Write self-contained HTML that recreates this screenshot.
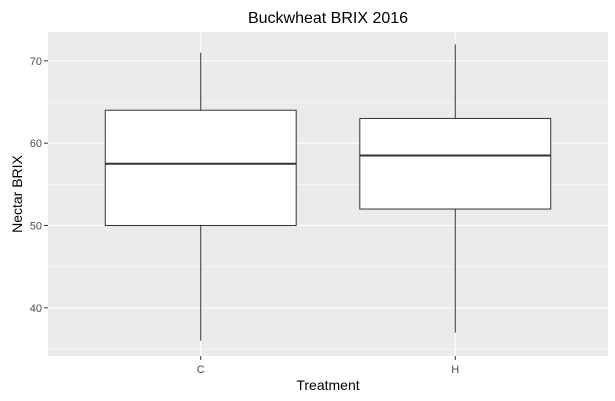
<!DOCTYPE html>
<html><head><meta charset="utf-8"><style>
body{margin:0;background:#fff;}
svg{display:block;font-family:"Liberation Sans",Arial,sans-serif;}
</style></head><body>
<svg id="chart" width="615" height="401">
<rect x="0" y="0" width="615" height="401" fill="#fff"/>
<text x="328" y="23" font-size="16" text-anchor="middle" fill="#000">Buckwheat BRIX 2016</text>
<rect x="48" y="32" width="560" height="324" fill="#ebebeb"/>
<g id="grid"></g>
<g id="boxes"></g>
<g id="axes"></g>
<text x="328" y="390" font-size="14" text-anchor="middle" fill="#000">Treatment</text>
<text transform="translate(22,194) rotate(-90)" font-size="14" text-anchor="middle" fill="#000">Nectar BRIX</text>
</svg>
<script>
const categories=["C","H"];
const lowerWhisker=[36,37];
const q1=[50,52];
const medians=[57.5,58.5];
const q3=[64,63];
const upperWhisker=[71,72];
const yTicks=[40,50,60,70];
const yMinor=[35,45,55,65];
const NS="http://www.w3.org/2000/svg";
const px0=48,px1=608,py0=32,py1=356;
const yMin=34.15,yMax=73.5;
function y(v){return py1-(v-yMin)/(yMax-yMin)*(py1-py0);}
const n=categories.length;
const unit=(px1-px0)/(n+0.2);
function x(i){return px0+(i+0.6)*unit;}
function mk(tag,attrs,parent){const e=document.createElementNS(NS,tag);for(const k in attrs)e.setAttribute(k,attrs[k]);parent.appendChild(e);return e;}
const grid=document.getElementById('grid'),boxes=document.getElementById('boxes'),axes=document.getElementById('axes');
yMinor.forEach(v=>{const l=mk('line',{x1:px0,x2:px1,y1:y(v),y2:y(v),stroke:'#fff','stroke-width':0.5},grid);

});
yTicks.forEach(v=>{const l=mk('line',{x1:px0,x2:px1,y1:y(v),y2:y(v),stroke:'#fff','stroke-width':1.1},grid);


const t=mk('line',{x1:px0-4,x2:px0,y1:y(v),y2:y(v),stroke:'#333'},axes);


const tx=mk('text',{x:px0-6,y:y(v)+4,'font-size':11,'text-anchor':'end',fill:'#4d4d4d'},axes);tx.textContent=v;

});
categories.forEach((c,i)=>{const cx=x(i);
const g=mk('line',{x1:cx,x2:cx,y1:py0,y2:py1,stroke:'#fff','stroke-width':1.1},grid);


const t=mk('line',{x1:cx,x2:cx,y1:py1,y2:py1+4,stroke:'#333'},axes);


const tx=mk('text',{x:cx,y:py1+17,'font-size':11,'text-anchor':'middle',fill:'#4d4d4d'},axes);tx.textContent=c;


const hw=unit*0.375;
const w1=mk('line',{x1:cx,x2:cx,y1:y(upperWhisker[i]),y2:y(q3[i]),stroke:'#333'},boxes);


const w2=mk('line',{x1:cx,x2:cx,y1:y(q1[i]),y2:y(lowerWhisker[i]),stroke:'#333'},boxes);


const b=mk('rect',{x:cx-hw,y:y(q3[i]),width:2*hw,height:y(q1[i])-y(q3[i]),fill:'#fff',stroke:'#333'},boxes);


const m=mk('line',{x1:cx-hw,x2:cx+hw,y1:y(medians[i]),y2:y(medians[i]),stroke:'#333','stroke-width':2},boxes);

});
</script>
</body></html>
